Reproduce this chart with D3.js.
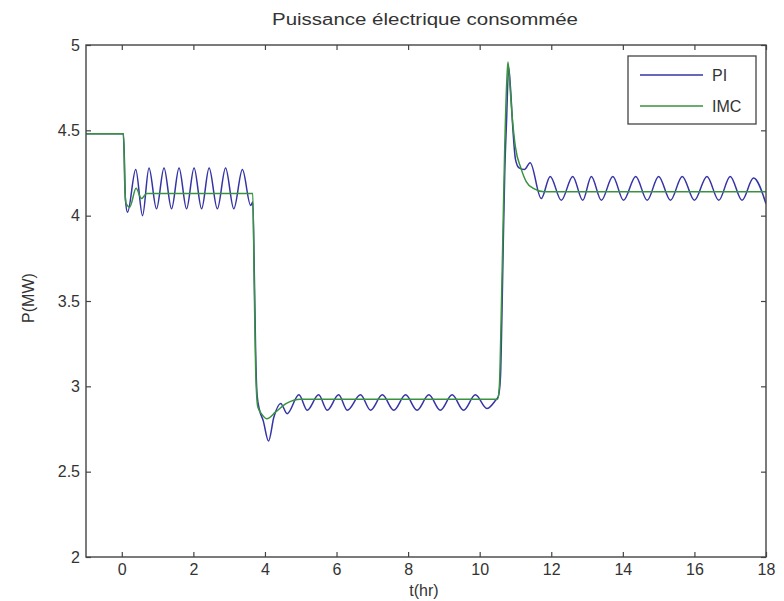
<!DOCTYPE html>
<meta charset="utf-8">
<style>
  body { margin: 0; background: #fff; }
  text { font-family: "Liberation Sans", Arial, sans-serif; fill: #333; }
</style>
<body>
<svg width="784" height="601"></svg>
<script src="https://cdn.jsdelivr.net/npm/d3@7/dist/d3.min.js"></script>
<script>
// time (hr) and power (MW), PI controller
var tPI = [-1, 0.04, 0.07, 0.1, 0.16, 0.39, 0.58, 0.76, 0.97, 1.18, 1.39, 1.6, 1.81, 2.02, 2.23, 2.44, 2.67, 2.9, 3.13, 3.37, 3.6, 3.66,
  3.7, 3.74, 3.78, 3.85, 3.95, 4.1, 4.25, 4.44, 4.62, 4.95, 5.18, 5.5, 5.74, 6.06, 6.3, 6.67, 6.95, 7.28, 7.6, 7.93, 8.25, 8.58, 8.9, 9.23, 9.55, 9.88, 10.2, 10.45,
  10.52, 10.58, 10.62, 10.66, 10.7, 10.75, 10.81, 10.86, 10.93, 11.0, 11.1, 11.25, 11.41, 11.72, 11.97, 12.28, 12.6, 12.88, 13.12, 13.4, 13.72, 14.02, 14.36, 14.68, 15.0, 15.33, 15.66, 16.0, 16.35, 16.68, 17.0, 17.33, 17.65, 18];
var pPI = [4.48, 4.48, 4.35, 4.1, 4.02, 4.27, 4.0, 4.28, 4.04, 4.28, 4.04, 4.28, 4.04, 4.28, 4.04, 4.28, 4.04, 4.28, 4.04, 4.27, 4.06, 4.08,
  3.7, 3.2, 2.95, 2.86, 2.8, 2.68, 2.82, 2.9, 2.84, 2.95, 2.86, 2.95, 2.86, 2.95, 2.86, 2.95, 2.86, 2.95, 2.86, 2.95, 2.86, 2.95, 2.86, 2.95, 2.86, 2.95, 2.87, 2.92,
  2.94, 3.05, 3.4, 3.85, 4.25, 4.55, 4.87, 4.75, 4.5, 4.33, 4.28, 4.27, 4.31, 4.1, 4.23, 4.09, 4.23, 4.09, 4.23, 4.09, 4.23, 4.09, 4.23, 4.09, 4.23, 4.09, 4.23, 4.09, 4.23, 4.09, 4.23, 4.09, 4.22, 4.07];

// IMC controller
var tIMC = [-1, 0.05, 0.08, 0.12, 0.22, 0.4, 0.55, 0.7, 1.0, 3.66, 3.7, 3.74, 3.8, 3.9, 4.05, 4.3, 4.6, 5.0, 10.5,
  10.55, 10.6, 10.65, 10.7, 10.76, 10.79, 10.84, 10.9, 11.0, 11.15, 11.3, 11.5, 11.8, 18];
var pIMC = [4.48, 4.48, 4.2, 4.07, 4.05, 4.16, 4.1, 4.13, 4.13, 4.13, 3.6, 3.1, 2.88, 2.84, 2.81, 2.85, 2.9, 2.925, 2.925,
  3.0, 3.4, 3.9, 4.4, 4.8, 4.9, 4.78, 4.6, 4.4, 4.28, 4.2, 4.16, 4.14, 4.14];

var xTicks = [0, 2, 4, 6, 8, 10, 12, 14, 16, 18];
var yTicks = [2, 2.5, 3, 3.5, 4, 4.5, 5];
var seriesNames = ["PI", "IMC"];
var seriesColors = ["#3434a6", "#38923f"];

var svg = d3.select("svg"),
  margin = {top: 45, right: 18, bottom: 44, left: 86},
  width = +svg.attr("width") - margin.left - margin.right,
  height = +svg.attr("height") - margin.top - margin.bottom;

svg.append("rect").attr("width", 784).attr("height", 601).attr("fill", "#fff");

var g = svg.append("g").attr("transform", "translate(" + margin.left + "," + margin.top + ")");

var x = d3.scaleLinear().domain([-1, 18]).range([0, width]);
var y = d3.scaleLinear().domain([2, 5]).range([height, 0]);

g.append("clipPath").attr("id", "clip")
  .append("rect").attr("width", width).attr("height", height);

var line = d3.line()
  .curve(d3.curveMonotoneX)
  .x(function(d) { return x(d[0]); })
  .y(function(d) { return y(d[1]); });

var dataPI = tPI.map(function(t, i) { return [t, pPI[i]]; });
var dataIMC = tIMC.map(function(t, i) { return [t, pIMC[i]]; });

g.append("path").datum(dataPI)
  .attr("clip-path", "url(#clip)")
  .attr("fill", "none").attr("stroke", seriesColors[0]).attr("stroke-width", 1.5)
  .attr("d", line);

g.append("path").datum(dataIMC)
  .attr("clip-path", "url(#clip)")
  .attr("fill", "none").attr("stroke", seriesColors[1]).attr("stroke-width", 1.5)
  .attr("d", line);

// axes, ticks pointing inward on all four sides
function styleAxis(sel) {
  sel.select(".domain").remove();
  sel.selectAll(".tick line").attr("stroke", "#444").attr("stroke-width", 1.2);
  sel.selectAll("text").style("font-size", "16px").attr("fill", "#333");
}

g.append("g").attr("transform", "translate(0," + height + ")")
  .call(d3.axisBottom(x).tickValues(xTicks).tickSize(-5).tickPadding(7).tickFormat(d3.format("d")))
  .call(styleAxis);
g.append("g")
  .call(d3.axisTop(x).tickValues(xTicks).tickSize(-5).tickFormat(""))
  .call(styleAxis);
g.append("g")
  .call(d3.axisLeft(y).tickValues(yTicks).tickSize(-5).tickPadding(6).tickFormat(function(d) { return d; }))
  .call(styleAxis);
g.append("g").attr("transform", "translate(" + width + ",0)")
  .call(d3.axisRight(y).tickValues(yTicks).tickSize(-5).tickFormat(""))
  .call(styleAxis);

g.append("rect")
  .attr("width", width).attr("height", height)
  .attr("fill", "none").attr("stroke", "#444").attr("stroke-width", 1.4);

// titles
svg.append("text")
  .attr("x", 425).attr("y", 25)
  .attr("text-anchor", "middle")
  .attr("textLength", 306).attr("lengthAdjust", "spacingAndGlyphs")
  .style("font-size", "16px")
  .text("Puissance électrique consommée");

svg.append("text")
  .attr("x", 424).attr("y", 596)
  .attr("text-anchor", "middle")
  .style("font-size", "16px")
  .text("t(hr)");

svg.append("text")
  .attr("transform", "translate(34,298) rotate(-90)")
  .attr("text-anchor", "middle")
  .style("font-size", "16px")
  .text("P(MW)");

// legend
var legend = svg.append("g").attr("transform", "translate(628,56)");
legend.append("rect")
  .attr("width", 128).attr("height", 68)
  .attr("fill", "#fff").attr("stroke", "#444").attr("stroke-width", 1.3);

seriesNames.forEach(function(name, i) {
  var ly = 19 + i * 31;
  legend.append("line")
    .attr("x1", 12).attr("x2", 75).attr("y1", ly).attr("y2", ly)
    .attr("stroke", seriesColors[i]).attr("stroke-width", 1.5);
  legend.append("text")
    .attr("x", 84).attr("y", ly + 6)
    .style("font-size", "16px")
    .text(name);
});
</script>
</body>
